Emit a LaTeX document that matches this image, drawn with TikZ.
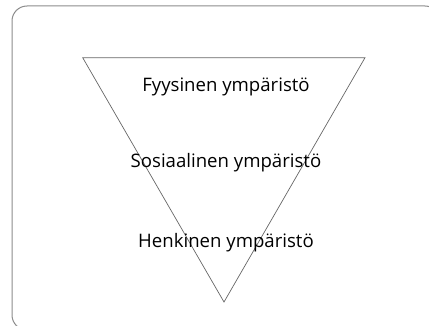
\documentclass[tikz,border=0pt]{standalone}
\usepackage{fontspec}
\setmainfont{Open Sans}
\begin{document}
\begin{tikzpicture}[x=1pt,y=-1pt,
  frame/.style={draw=black!45,line width=1pt,rounded corners=15pt},
  tri/.style={draw=black!60,line width=0.7pt},
  lbl/.style={font=\fontsize{18.6}{22}\selectfont,text=black,inner sep=0pt,anchor=base}]
\useasboundingbox (0,0) rectangle (429,326);
\clip (0,0) rectangle (429,326);
\draw[frame] (12,6) rectangle (440,330);
\coordinate (tl) at (82.7,57.7);
\coordinate (tr) at (365,57.7);
\coordinate (bt) at (224,302);
\draw[tri] (tl) -- (tr) -- (bt) -- cycle;
\node[lbl] (f) at (226,92) {Fyysinen ympäristö};
\node[lbl] (s) at (226,168) {Sosiaalinen ympäristö};
\node[lbl] (h) at (226,248) {Henkinen ympäristö};
\end{tikzpicture}
\end{document}
